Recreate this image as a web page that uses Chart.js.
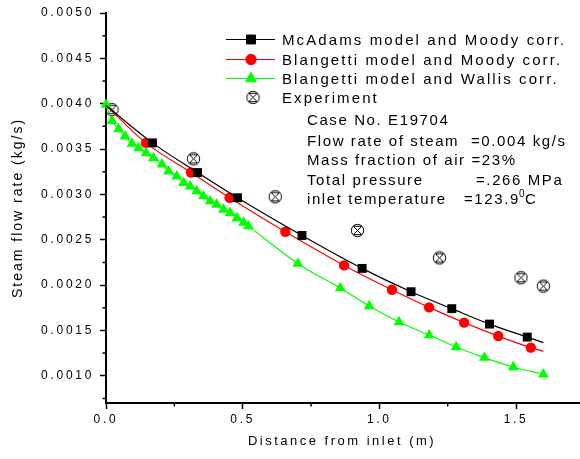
<!DOCTYPE html>
<html>
<head>
<meta charset="utf-8">
<script src="https://cdn.jsdelivr.net/npm/chart.js@4.4.0/dist/chart.umd.min.js"></script>
<style>
html, body { margin: 0; padding: 0; background: #fff; }
canvas { display: block; }
</style>
</head>
<body>
<canvas id="steamChart" width="580" height="459"></canvas>
<script>
// McAdams model and Moody corr. (first and last points are curve ends, no marker)
const mcadamsX = [0, 0.170, 0.335, 0.481, 0.717, 0.937, 1.116, 1.265, 1.403, 1.541, 1.600];
const mcadamsY = [0.00398, 0.003568, 0.003241, 0.002963, 0.002547, 0.002184, 0.001927, 0.00174, 0.00157, 0.001427, 0.001366];

// Blangetti model and Moody corr.
const blMoodyX = [0, 0.146, 0.311, 0.452, 0.656, 0.871, 1.046, 1.182, 1.310, 1.435, 1.554, 1.600];
const blMoodyY = [0.00398, 0.003568, 0.003241, 0.002963, 0.002588, 0.002217, 0.001949, 0.001754, 0.001586, 0.001438, 0.001311, 0.00127];

// Blangetti model and Wallis corr.
const blWallisX = [0, 0.022, 0.046, 0.070, 0.095, 0.120, 0.147, 0.174, 0.205, 0.229, 0.259, 0.284,
    0.308, 0.332, 0.357, 0.381, 0.405, 0.430, 0.454, 0.479, 0.503, 0.521,
    0.702, 0.857, 0.963, 1.072, 1.182, 1.281, 1.384, 1.490, 1.600];
const blWallisY = [0.00399, 0.00381, 0.00372, 0.00364, 0.00356, 0.00351, 0.003455, 0.00340, 0.00333, 0.003255, 0.00320, 0.003127,
    0.00309, 0.003035, 0.00298, 0.002925, 0.002888, 0.002833, 0.002796, 0.00274, 0.00269, 0.00265,
    0.002236, 0.001966, 0.001769, 0.001593, 0.001449, 0.001317, 0.0012, 0.001097, 0.001017];

// Experiment
const expX = [0.022, 0.320, 0.619, 0.920, 1.220, 1.518, 1.600];
const expY = [0.003935, 0.003392, 0.002974, 0.002602, 0.0023, 0.002081, 0.001989];

const xTicks = [0, 0.5, 1.0, 1.5];
const xMinorTicks = [0.25, 0.75, 1.25];
const yTicks = [0.0010, 0.0015, 0.0020, 0.0025, 0.0030, 0.0035, 0.0040, 0.0045, 0.0050];
const yMinorTicks = [0.00075, 0.00125, 0.00175, 0.00225, 0.00275, 0.00325, 0.00375, 0.00425, 0.00475];

const caseLines = [
    ['Case No. E19704', ''],
    ['Flow rate of steam', '=0.004 kg/s'],
    ['Mass fraction of air', '=23%'],
    ['Total pressure', '=.266 MPa'],
    ['inlet temperature', '=123.9']
];

const FONT = '"Liberation Sans", Arial, sans-serif';

function pts(xs, ys) {
    return xs.map(function(x, i) { return { x: x, y: ys[i] }; });
}

// circle with a cross inside, used for the experiment points
function makeExpMarker() {
    const c = document.createElement('canvas');
    c.width = 15; c.height = 15;
    const g = c.getContext('2d');
    g.strokeStyle = '#000';
    g.lineWidth = 1;
    g.beginPath();
    g.arc(7.5, 7.5, 6.2, 0, Math.PI * 2);
    g.stroke();
    g.beginPath();
    g.moveTo(3.3, 3.3); g.lineTo(11.7, 11.7);
    g.moveTo(11.7, 3.3); g.lineTo(3.3, 11.7);
    g.moveTo(4, 3.3); g.lineTo(11, 3.3);
    g.moveTo(4, 11.7); g.lineTo(11, 11.7);
    g.stroke();
    return c;
}
const expMarker = makeExpMarker();

function endsHidden(n, r) {
    return Array.from({ length: n }, function(_, i) { return (i === 0 || i === n - 1) ? 0 : r; });
}

const decor = {
    id: 'decor',
    beforeDraw: function(chart) {
        chart.ctx.letterSpacing = '2.7px';
    },
    afterDraw: function(chart) {
        const ctx = chart.ctx;
        const xs = chart.scales.x, ys = chart.scales.y;
        const area = chart.chartArea;
        ctx.save();
        ctx.letterSpacing = '0px';

        // minor ticks
        ctx.strokeStyle = '#000';
        ctx.lineWidth = 1.5;
        ctx.beginPath();
        yMinorTicks.forEach(function(v) {
            const py = ys.getPixelForValue(v);
            if (py <= area.bottom) { ctx.moveTo(area.left - 3.5, py); ctx.lineTo(area.left, py); }
        });
        xMinorTicks.forEach(function(v) {
            const px = xs.getPixelForValue(v);
            ctx.moveTo(px, area.bottom); ctx.lineTo(px, area.bottom + 3.5);
        });
        ctx.stroke();

        ctx.fillStyle = '#000';
        // axis titles
        ctx.textBaseline = 'middle';
        ctx.textAlign = 'center';
        ctx.font = '13px ' + FONT;
        ctx.letterSpacing = '2.5px';
        ctx.fillText('Distance from inlet (m)', 342, 441);
        ctx.save();
        ctx.translate(18, (area.top + area.bottom) / 2);
        ctx.rotate(-Math.PI / 2);
        ctx.font = '14px ' + FONT;
        ctx.letterSpacing = '2px';
        ctx.fillText('Steam flow rate (kg/s)', 0, 0);
        ctx.restore();

        // legend
        ctx.textAlign = 'left';
        ctx.font = '15px ' + FONT;
        ctx.letterSpacing = '2.1px';
        const rows = [39.5, 59.5, 78.5, 97.5];
        chart.data.datasets.forEach(function(ds, i) {
            const y = rows[i];
            if (ds.showLine !== false) {
                ctx.strokeStyle = ds.borderColor;
                ctx.lineWidth = 1;
                ctx.beginPath();
                ctx.moveTo(226, y); ctx.lineTo(275, y);
                ctx.stroke();
            }
            ctx.fillStyle = ds.pointBackgroundColor;
            ctx.strokeStyle = ds.pointBorderColor;
            ctx.lineWidth = 1;
            Chart.helpers.drawPoint(ctx, {
                pointStyle: ds.pointStyle,
                radius: ds.legendRadius,
                rotation: 0,
                borderWidth: 1
            }, ds.showLine !== false ? 251 : 253, y);
            ctx.fillStyle = '#000';
            ctx.fillText(ds.label, 282, y + 1);
        });

        // case description
        ctx.letterSpacing = '1.6px';
        const rowY = [121, 141.5, 161, 180.5, 200];
        const valX = [0, 471, 441, 476, 464];
        let degX = 0;
        caseLines.forEach(function(l, i) {
            ctx.fillText(l[0], 307, rowY[i]);
            if (l[1]) {
                const endX = 307 + ctx.measureText(l[0] + ' ').width;
                const vx = Math.max(valX[i], endX);
                ctx.fillText(l[1], vx, rowY[i]);
                degX = vx + ctx.measureText(l[1]).width;
            }
        });
        ctx.font = '10px ' + FONT;
        ctx.letterSpacing = '0px';
        ctx.fillText('0', degX - 1, rowY[4] - 6);
        ctx.font = '15px ' + FONT;
        ctx.fillText('C', degX + 5, rowY[4]);

        ctx.restore();
    }
};

new Chart(document.getElementById('steamChart'), {
    type: 'line',
    data: {
        datasets: [
            {
                label: 'McAdams model and Moody corr.',
                data: pts(mcadamsX, mcadamsY),
                borderColor: '#000000',
                borderWidth: 1.2,
                pointStyle: 'rect',
                pointRadius: endsHidden(mcadamsX.length, 6.3),
                legendRadius: 6.3,
                pointBackgroundColor: '#000000',
                pointBorderColor: '#000000',
                pointBorderWidth: 0,
                cubicInterpolationMode: 'monotone',
                clip: false
            },
            {
                label: 'Blangetti model and Moody corr.',
                data: pts(blMoodyX, blMoodyY),
                borderColor: '#ff0000',
                borderWidth: 1.2,
                pointStyle: 'circle',
                pointRadius: endsHidden(blMoodyX.length, 5.2),
                legendRadius: 5.2,
                pointBackgroundColor: '#ff0000',
                pointBorderColor: '#ff0000',
                pointBorderWidth: 0,
                cubicInterpolationMode: 'monotone',
                clip: false
            },
            {
                label: 'Blangetti model and Wallis corr.',
                data: pts(blWallisX, blWallisY),
                borderColor: '#00ff00',
                borderWidth: 1.2,
                pointStyle: 'triangle',
                pointRadius: 6.3,
                legendRadius: 6.3,
                pointBackgroundColor: '#00ff00',
                pointBorderColor: '#00ff00',
                pointBorderWidth: 0,
                cubicInterpolationMode: 'monotone',
                clip: false
            },
            {
                label: 'Experiment',
                data: pts(expX, expY),
                showLine: false,
                pointStyle: expMarker,
                pointRadius: 7,
                legendRadius: 7,
                pointBackgroundColor: '#000000',
                pointBorderColor: '#000000',
                clip: false
            }
        ]
    },
    options: {
        responsive: false,
        animation: false,
        layout: { autoPadding: false, padding: { top: 13, right: 0, left: 0, bottom: 0 } },
        plugins: {
            legend: { display: false },
            tooltip: { enabled: false }
        },
        scales: {
            x: {
                type: 'linear',
                min: 0,
                max: 1.734,
                afterBuildTicks: function(scale) {
                    scale.ticks = xTicks.map(function(v) { return { value: v }; });
                },
                afterFit: function(scale) {
                    scale.height = 56;
                    scale.paddingLeft = 0;
                    scale.paddingRight = 0;
                },
                ticks: {
                    color: '#000',
                    font: { family: FONT, size: 12 },
                    padding: 3,
                    maxRotation: 0,
                    callback: function(v) { return Number(v).toFixed(1); }
                },
                grid: { drawOnChartArea: false, drawTicks: true, tickLength: 6, tickWidth: 1.5, tickColor: '#000' },
                border: { display: true, color: '#000', width: 2 }
            },
            y: {
                type: 'linear',
                min: 0.0007,
                max: 0.0050,
                afterBuildTicks: function(scale) {
                    scale.ticks = yTicks.map(function(v) { return { value: v }; });
                },
                afterFit: function(scale) {
                    scale.width = 106;
                    scale.paddingTop = 0;
                    scale.paddingBottom = 0;
                },
                ticks: {
                    color: '#000',
                    font: { family: FONT, size: 12 },
                    padding: 6,
                    callback: function(v) { return Number(v).toFixed(4); }
                },
                grid: { drawOnChartArea: false, drawTicks: true, tickLength: 6, tickWidth: 1.5, tickColor: '#000' },
                border: { display: true, color: '#000', width: 2 }
            }
        }
    },
    plugins: [decor]
});
</script>
</body>
</html>
